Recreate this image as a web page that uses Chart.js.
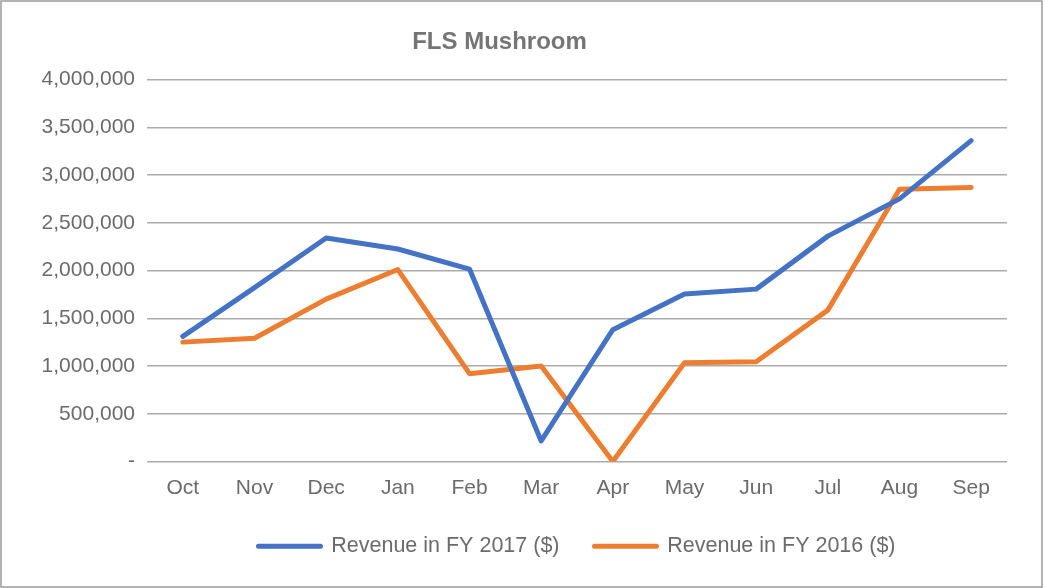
<!DOCTYPE html>
<html>
<head>
<meta charset="utf-8">
<title>FLS Mushroom</title>
<script src="https://cdn.jsdelivr.net/npm/chart.js@4.4.1/dist/chart.umd.min.js"></script>
<style>
    html, body { margin: 0; padding: 0; background: #ffffff; }
    #chart { display: block; }
</style>
</head>
<body>
<canvas id="chart" width="1045" height="588"></canvas>
<script>
// Chart data
const months = ['Oct', 'Nov', 'Dec', 'Jan', 'Feb', 'Mar', 'Apr', 'May', 'Jun', 'Jul', 'Aug', 'Sep'];
const revenueFY2017 = [1310000, 1820000, 2340000, 2225000, 2015000, 215000, 1380000, 1755000, 1805000, 2360000, 2750000, 3360000];
const revenueFY2016 = [1250000, 1290000, 1700000, 2010000, 920000, 1000000, 0, 1035000, 1045000, 1585000, 2850000, 2870000];
const seriesNames = ['Revenue in FY 2017 ($)', 'Revenue in FY 2016 ($)'];
const chartTitle = 'FLS Mushroom';

const chartColors = ['#4472C4', '#ED7D31'];
const textColor = '#6b6b6b';
const gridColor = '#ababab';
const fontFamily = "'Liberation Sans', Arial, Helvetica, sans-serif";

// Outer frame around the whole chart
const framePlugin = {
    id: 'frame',
    afterDraw(chart) {
        const ctx = chart.ctx;
        ctx.save();
        ctx.strokeStyle = '#9a9a9a';
        ctx.lineWidth = 1.5;
        ctx.strokeRect(1, 1, 1041, 586);
        ctx.restore();
    }
};

function makeDataset(label, values, color) {
    return {
        label: label,
        data: values,
        borderColor: color,
        backgroundColor: color,
        borderWidth: 5,
        borderCapStyle: 'round',
        borderJoinStyle: 'round',
        pointRadius: 0,
        pointHoverRadius: 0,
        fill: false,
        tension: 0
    };
}

const ctx = document.getElementById('chart').getContext('2d');

new Chart(ctx, {
    type: 'line',
    data: {
        labels: months,
        datasets: [
            makeDataset(seriesNames[0], revenueFY2017, chartColors[0]),
            makeDataset(seriesNames[1], revenueFY2016, chartColors[1])
        ]
    },
    options: {
        responsive: false,
        animation: false,
        devicePixelRatio: 1,
        layout: {
            padding: { top: 20, left: -8, right: 38, bottom: 21 }
        },
        scales: {
            x: {
                offset: true,
                grid: { display: false, drawTicks: false },
                border: { display: false },
                ticks: {
                    color: textColor,
                    padding: 14,
                    maxRotation: 0,
                    font: { family: fontFamily, size: 21 }
                },
                afterFit(scale) {
                    scale.height = 39;
                }
            },
            y: {
                min: 0,
                max: 4000000,
                grid: {
                    color: gridColor,
                    lineWidth: 1.4,
                    drawTicks: false
                },
                border: { display: false },
                ticks: {
                    stepSize: 500000,
                    color: textColor,
                    padding: 12,
                    font: { family: fontFamily, size: 21 },
                    callback: value => value === 0 ? '-' : value.toLocaleString('en-US')
                },
                afterFit(scale) {
                    scale.width = 155;
                }
            }
        },
        plugins: {
            title: {
                display: true,
                text: chartTitle,
                color: '#757575',
                font: { family: fontFamily, size: 24, weight: 'bold' },
                padding: { top: 8, bottom: 22.7 }
            },
            legend: {
                position: 'bottom',
                fullSize: false,
                labels: {
                    color: textColor,
                    boxWidth: 62,
                    boxHeight: 0,
                    padding: 35,
                    font: { family: fontFamily, size: 21.5 }
                }
            },
            tooltip: { enabled: false }
        }
    },
    plugins: [framePlugin]
});
</script>
</body>
</html>
